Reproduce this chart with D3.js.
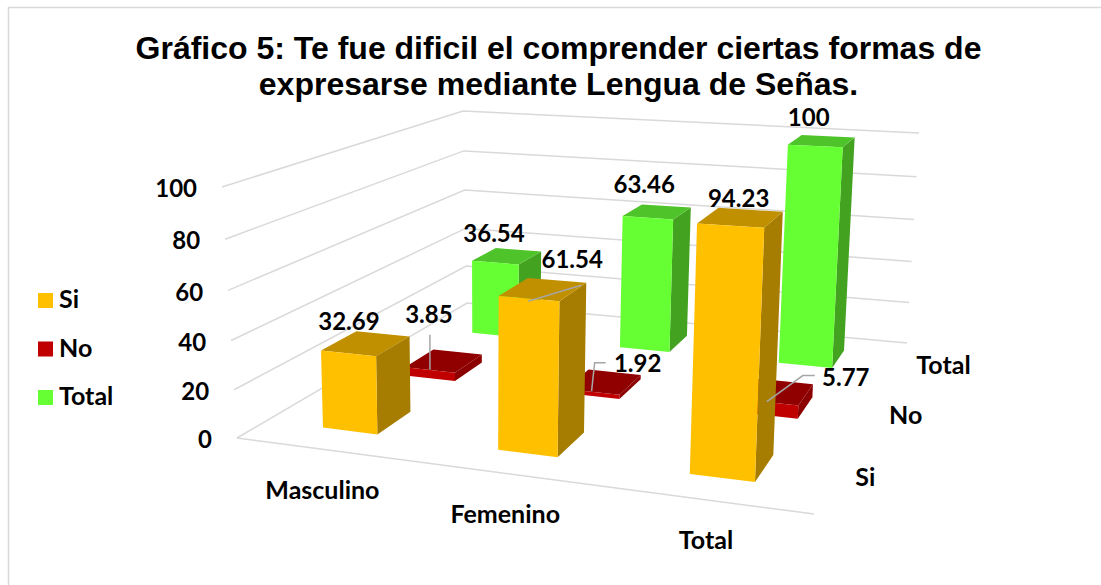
<!DOCTYPE html>
<html>
<head>
<meta charset="utf-8">
<script src="https://cdn.jsdelivr.net/npm/d3@7"></script>
<style>
  html, body { margin: 0; padding: 0; background: #fff; }
  svg { display: block; }
  .lbl { font-family: Lato, sans-serif; font-weight: 700; font-size: 25px; fill: #000; }
  .num { font-size: 24px; }
  .title { font-family: "Liberation Sans", Arial, sans-serif; font-weight: 700; font-size: 32px; fill: #000; text-anchor: middle; }
</style>
</head>
<body>
<div id="chart"></div>
<script>
const titleLines = ['Gráfico 5: Te fue dificil el comprender ciertas formas de', 'expresarse mediante Lengua de Señas.'];
const categories = ['Masculino', 'Femenino', 'Total'];
const seriesNames = ['Si', 'No', 'Total'];
const siValues = [32.69, 61.54, 94.23];
const noValues = [3.85, 1.92, 5.77];
const totalValues = [36.54, 63.46, 100];
const yTicks = [0, 20, 40, 60, 80, 100];

const width = 1101, height = 585;

// colours per series: front, side, top
const colors = {
  Si: ['#FFC000', '#A67D00', '#C09000'],
  No: ['#C00000', '#8B0000', '#900000'],
  Total: ['#66FF33', '#43A321', '#4FC32A']
};

// where the value label sits, relative to the projected centre of the bar top
// leader is a list of [dx, dy] from the same point
const labelPlace = {
  'Si|Masculino': { dx: -17, dy: -20 },
  'No|Masculino': { dx: -15, dy: -44, leader: [[-14, 9], [-14, -26]] },
  'Total|Masculino': { dx: -13, dy: -20 },
  'Si|Femenino': { dx: 29, dy: -27, leader: [[-15, 12], [38, -4]] },
  'No|Femenino': { dx: 34, dy: -16, leader: [[-12, 9], [-9, -19], [2, -19]] },
  'Total|Femenino': { dx: -13, dy: -25 },
  'Si|Total': { dx: -2, dy: -17 },
  'No|Total': { dx: 69, dy: -12, leader: [[-10, 10], [26, -16], [38, -16]] },
  'Total|Total': { dx: -13, dy: -21 }
};

// plan view of the box, perspective maps u,v in 0..1 to the screen
function quadMap(p0, p1, p2, p3) {
  const dx1 = p1[0] - p2[0], dx2 = p3[0] - p2[0], sx = p0[0] - p1[0] + p2[0] - p3[0];
  const dy1 = p1[1] - p2[1], dy2 = p3[1] - p2[1], sy = p0[1] - p1[1] + p2[1] - p3[1];
  const det = dx1 * dy2 - dx2 * dy1;
  const g = (sx * dy2 - dx2 * sy) / det;
  const h = (dx1 * sy - sx * dy1) / det;
  const a = p1[0] - p0[0] + g * p1[0], b = p3[0] - p0[0] + h * p3[0];
  const d = p1[1] - p0[1] + g * p1[1], e = p3[1] - p0[1] + h * p3[1];
  return (u, v) => {
    const w = g * u + h * v + 1;
    return [(a * u + b * v + p0[0]) / w, (d * u + e * v + p0[1]) / w];
  };
}

const floorMap = quadMap([237, 438], [814, 514], [907, 343], [467, 303]);
const wallRoofMap = quadMap([222, 187], [826, 239], [919, 133], [463, 111]);
// the bars lean less than the walls, so they get their own top plane
const barRoofMap = quadMap([227, 190], [826, 229], [919, 133], [466, 113]);

const xScale = d3.scaleBand().domain(categories).range([0, 1]).paddingInner(0.68).paddingOuter(0.34);
const zScale = d3.scaleBand().domain(seriesNames).range([0, 1]).paddingInner(0.6).paddingOuter(0.3);
const yScale = d3.scaleLinear().domain([0, 100]).range([0, 1]);

function projectOn(roofMap, u, value, v) {
  const t = yScale(value);
  const s = t / (1 + 0.05 * (1 - t));
  const a = floorMap(u, v), b = roofMap(u, v);
  return [a[0] + (b[0] - a[0]) * s, a[1] + (b[1] - a[1]) * s];
}
const project = (u, value, v) => projectOn(wallRoofMap, u, value, v);
const projectBar = (u, value, v) => projectOn(barRoofMap, u, value, v);

const svg = d3.select('#chart').append('svg')
  .attr('width', width)
  .attr('height', height);

// chart frame
svg.append('rect')
  .attr('x', 8.5).attr('y', 7.5)
  .attr('width', width).attr('height', height)
  .attr('fill', 'none')
  .attr('stroke', '#d9d9d9')
  .attr('stroke-width', 1.5);

svg.selectAll('text.title')
  .data(titleLines)
  .enter()
  .append('text')
  .attr('class', 'title')
  .attr('x', 558.5)
  .attr('y', (d, i) => 59 + i * 36)
  .text(d => d);

// walls and floor
const gridLine = d3.line();
svg.append('g').selectAll('path')
  .data(yTicks)
  .enter()
  .append('path')
  .attr('d', d => gridLine([project(0, d, 0), project(0, d, 1), project(1, d, 1)]))
  .attr('fill', 'none')
  .attr('stroke', '#d9d9d9')
  .attr('stroke-width', 1.5);
svg.append('path')
  .attr('d', gridLine([project(0, 0, 0), project(1, 0, 0)]))
  .attr('fill', 'none')
  .attr('stroke', '#d9d9d9')
  .attr('stroke-width', 1.5);

// back series first so the front ones cover them
const seriesValues = { Si: siValues, No: noValues, Total: totalValues };
const bars = [];
seriesNames.slice().reverse().forEach(s => {
  categories.forEach((c, i) => {
    bars.push({ series: s, category: c, value: seriesValues[s][i] });
  });
});

const face = d3.line().curve(d3.curveLinearClosed);
const barG = svg.append('g').selectAll('g')
  .data(bars)
  .enter()
  .append('g');

barG.each(function (d) {
  const u0 = xScale(d.category), u1 = u0 + xScale.bandwidth();
  const v0 = zScale(d.series), v1 = v0 + zScale.bandwidth();
  const c = colors[d.series];
  const g = d3.select(this);
  g.append('path')
    .attr('d', face([projectBar(u1, 0, v0), projectBar(u1, 0, v1), projectBar(u1, d.value, v1), projectBar(u1, d.value, v0)]))
    .attr('fill', c[1]);
  g.append('path')
    .attr('d', face([projectBar(u0, d.value, v0), projectBar(u1, d.value, v0), projectBar(u1, d.value, v1), projectBar(u0, d.value, v1)]))
    .attr('fill', c[2]);
  g.append('path')
    .attr('d', face([projectBar(u0, 0, v0), projectBar(u1, 0, v0), projectBar(u1, d.value, v0), projectBar(u0, d.value, v0)]))
    .attr('fill', c[0]);
});

// value labels and leaders go on top of every bar
bars.forEach(d => {
  const u = xScale(d.category) + xScale.bandwidth() / 2;
  const v = zScale(d.series) + zScale.bandwidth() / 2;
  const p = projectBar(u, d.value, v);
  const place = labelPlace[d.series + '|' + d.category];
  if (place.leader) {
    svg.append('path')
      .attr('d', gridLine(place.leader.map(o => [p[0] + o[0], p[1] + o[1]])))
      .attr('fill', 'none')
      .attr('stroke', '#a6a6a6')
      .attr('stroke-width', 1.5);
  }
  svg.append('text')
    .attr('class', 'lbl num')
    .attr('x', p[0] + place.dx)
    .attr('y', p[1] + place.dy)
    .attr('text-anchor', 'middle')
    .attr('dominant-baseline', 'middle')
    .text(d.value);
});

// value axis labels
svg.append('g').selectAll('text')
  .data(yTicks)
  .enter()
  .append('text')
  .attr('class', 'lbl num')
  .attr('x', d => project(0, d, 0)[0] - 25)
  .attr('y', d => project(0, d, 0)[1] + 4)
  .attr('text-anchor', 'end')
  .attr('dominant-baseline', 'middle')
  .text(d => d);

// category labels
svg.append('g').selectAll('text')
  .data(categories)
  .enter()
  .append('text')
  .attr('class', 'lbl')
  .attr('x', d => project(xScale(d) + xScale.bandwidth() / 2, 0, 0)[0])
  .attr('y', d => project(xScale(d) + xScale.bandwidth() / 2, 0, 0)[1] + 43)
  .attr('text-anchor', 'middle')
  .attr('dominant-baseline', 'middle')
  .text(d => d);

// series labels along the right edge
svg.append('g').selectAll('text')
  .data(seriesNames)
  .enter()
  .append('text')
  .attr('class', 'lbl')
  .attr('x', d => project(1, 0, zScale(d) + zScale.bandwidth() / 2)[0] + 21)
  .attr('y', d => project(1, 0, zScale(d) + zScale.bandwidth() / 2)[1] + 3)
  .attr('dominant-baseline', 'middle')
  .text(d => d);

// legend
const legendY = d3.scalePoint().domain(seriesNames).range([293, 390]);
const legend = svg.append('g').selectAll('g')
  .data(seriesNames)
  .enter()
  .append('g')
  .attr('transform', d => `translate(38,${legendY(d)})`);
legend.append('rect')
  .attr('width', 15)
  .attr('height', 15)
  .attr('fill', d => colors[d][0]);
legend.append('text')
  .attr('class', 'lbl')
  .attr('x', 21)
  .attr('y', 9)
  .attr('dominant-baseline', 'middle')
  .text(d => d);
</script>
</body>
</html>
